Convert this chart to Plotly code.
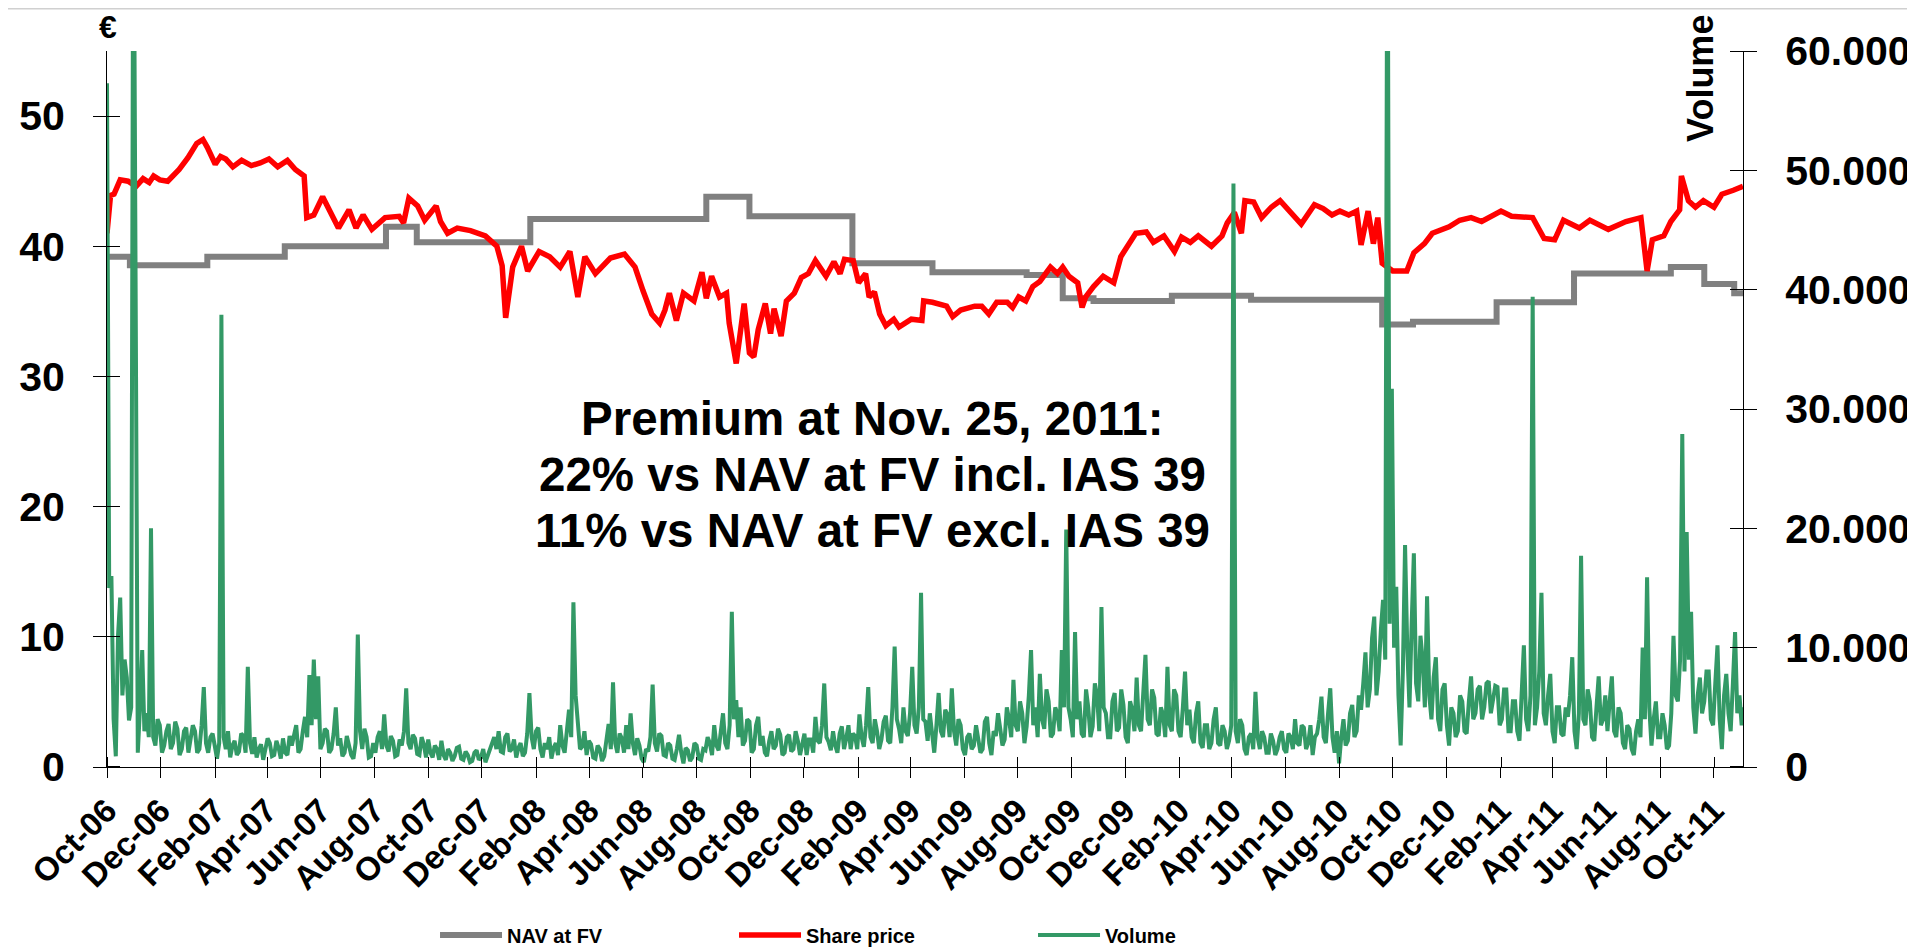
import pandas as pd
import plotly.graph_objects as go

# ---------------- data ----------------
nav_dates = ["2006-10-23", "2006-11-18", "2007-02-14", "2007-05-13", "2007-09-05", "2007-10-10",
             "2008-02-16", "2008-09-03", "2008-10-22", "2009-02-16", "2009-05-18", "2009-09-02",
             "2009-10-13", "2009-11-17", "2010-02-14", "2010-05-15", "2010-10-11", "2010-11-15",
             "2011-02-18", "2011-05-17", "2011-09-04", "2011-10-12", "2011-11-15", "2011-11-25"]
nav_values = [39.2, 38.55, 39.2, 40.0, 41.5, 40.3,
              42.1, 43.8, 42.3, 38.7, 38.0, 37.8,
              36.0, 35.8, 36.2, 35.9, 34.0, 34.2,
              35.7, 37.9, 38.4, 37.1, 36.4, 36.4]

price_dates = [
    "2006-10-23", "2006-10-27", "2006-10-31", "2006-11-07", "2006-11-16", "2006-11-25", "2006-12-03",
    "2006-12-10", "2006-12-15", "2006-12-22", "2006-12-31", "2007-01-13", "2007-01-23", "2007-02-02",
    "2007-02-09", "2007-02-14", "2007-02-23", "2007-03-01", "2007-03-07", "2007-03-15", "2007-03-25",
    "2007-04-05", "2007-04-15", "2007-04-25", "2007-05-05", "2007-05-16", "2007-05-25", "2007-06-04",
    "2007-06-07", "2007-06-15", "2007-06-25", "2007-07-03", "2007-07-13", "2007-07-25", "2007-08-02",
    "2007-08-10", "2007-08-20", "2007-09-04", "2007-09-20", "2007-09-25", "2007-10-01", "2007-10-11",
    "2007-10-19", "2007-11-01", "2007-11-06", "2007-11-14", "2007-11-25", "2007-12-10", "2007-12-27",
    "2008-01-09", "2008-01-15", "2008-01-19", "2008-01-27", "2008-02-06", "2008-02-13", "2008-02-26",
    "2008-03-09", "2008-03-21", "2008-04-01", "2008-04-10", "2008-04-18", "2008-04-30", "2008-05-17",
    "2008-06-02", "2008-06-14", "2008-06-23", "2008-07-03", "2008-07-12", "2008-07-18", "2008-07-23",
    "2008-07-31", "2008-08-08", "2008-08-20", "2008-08-29", "2008-09-03", "2008-09-09", "2008-09-18",
    "2008-09-26", "2008-09-29", "2008-10-07", "2008-10-16", "2008-10-22", "2008-10-27", "2008-11-01",
    "2008-11-09", "2008-11-15", "2008-11-19", "2008-11-27", "2008-12-03", "2008-12-12", "2008-12-20",
    "2008-12-28", "2009-01-05", "2009-01-17", "2009-01-26", "2009-02-02", "2009-02-07", "2009-02-17",
    "2009-02-23", "2009-03-03", "2009-03-07", "2009-03-13", "2009-03-19", "2009-03-26", "2009-04-04",
    "2009-04-10", "2009-04-24", "2009-05-06", "2009-05-08", "2009-05-18", "2009-06-03", "2009-06-10",
    "2009-06-19", "2009-07-05", "2009-07-13", "2009-07-21", "2009-07-30", "2009-08-11", "2009-08-17",
    "2009-08-24", "2009-09-01", "2009-09-09", "2009-09-17", "2009-09-29", "2009-10-07", "2009-10-13",
    "2009-10-20", "2009-10-30", "2009-11-04", "2009-11-08", "2009-11-17", "2009-11-28", "2009-12-10",
    "2009-12-18", "2009-12-26", "2010-01-04", "2010-01-16", "2010-01-24", "2010-02-05", "2010-02-17",
    "2010-02-25", "2010-03-07", "2010-03-16", "2010-03-31", "2010-04-12", "2010-04-18", "2010-04-26",
    "2010-05-04", "2010-05-08", "2010-05-18", "2010-05-27", "2010-06-07", "2010-06-17", "2010-06-28",
    "2010-07-11", "2010-07-26", "2010-08-05", "2010-08-15", "2010-08-24", "2010-09-03", "2010-09-12",
    "2010-09-17", "2010-09-25", "2010-10-01", "2010-10-06", "2010-10-11", "2010-10-23", "2010-11-08",
    "2010-11-16", "2010-11-28", "2010-12-07", "2010-12-26", "2011-01-07", "2011-01-20", "2011-02-01",
    "2011-02-23", "2011-03-07", "2011-03-31", "2011-04-13", "2011-04-25", "2011-05-05", "2011-05-23",
    "2011-06-04", "2011-06-25", "2011-07-15", "2011-08-01", "2011-08-08", "2011-08-14", "2011-08-27",
    "2011-09-04", "2011-09-14", "2011-09-16", "2011-09-24", "2011-10-02", "2011-10-11", "2011-10-23",
    "2011-11-01", "2011-11-14", "2011-11-25"]
price_values = [
    41.0, 43.9, 44.0, 45.1, 45.0, 44.6, 45.2,
    44.9, 45.4, 45.1, 45.0, 45.9, 46.8, 47.9,
    48.2, 47.6, 46.3, 46.9, 46.7, 46.1, 46.6,
    46.2, 46.4, 46.7, 46.1, 46.6, 45.9, 45.4,
    42.2, 42.4, 43.8, 42.8, 41.4, 42.8, 41.4,
    42.4, 41.3, 42.2, 42.3, 41.8, 43.7, 43.1,
    42.0, 43.1, 41.9, 41.0, 41.4, 41.2, 40.8,
    40.0, 38.5, 34.5, 38.4, 40.0, 38.1, 39.6,
    39.2, 38.4, 39.6, 36.1, 39.2, 37.9, 39.1,
    39.4, 38.4, 36.6, 34.8, 34.1, 35.1, 36.4,
    34.3, 36.4, 35.8, 38.0, 36.0, 37.7, 36.1,
    36.4, 34.1, 31.0, 35.6, 31.8, 31.5, 33.6,
    35.6, 33.3, 35.2, 33.1, 35.8, 36.4, 37.6,
    37.9, 38.9, 37.7, 38.8, 37.9, 39.0, 38.9,
    37.2, 37.9, 36.1, 36.5, 34.8, 33.9, 34.4,
    33.8, 34.4, 34.3, 35.8, 35.7, 35.4, 34.6,
    35.1, 35.4, 35.4, 34.8, 35.7, 35.7, 35.3,
    36.1, 35.8, 36.9, 37.3, 38.4, 37.9, 38.4,
    37.7, 37.2, 35.3, 36.1, 36.9, 37.7, 37.2,
    39.2, 40.0, 41.0, 41.1, 40.3, 40.8, 39.6,
    40.7, 40.3, 40.8, 40.0, 40.8, 41.8, 42.6,
    41.0, 43.5, 43.4, 42.2, 43.0, 43.5, 42.6,
    41.7, 43.2, 42.9, 42.4, 42.7, 42.4, 42.7,
    40.1, 42.7, 40.2, 42.2, 38.7, 38.1, 38.1,
    39.5, 40.2, 41.0, 41.5, 42.0, 42.2, 41.9,
    42.7, 42.3, 42.2, 40.6, 40.5, 42.0, 41.4,
    42.0, 41.3, 41.9, 42.2, 38.1, 40.5, 40.8,
    41.9, 42.8, 45.4, 43.5, 43.0, 43.5, 43.0,
    44.0, 44.3, 44.6]

# volume, one reading every 2.5 days starting 2006-10-23
volume_start = "2006-10-23"
volume_values = [
    57300, 15000, 16000, 4000, 900, 11000, 14200, 6000, 9000, 7500, 3900, 5000, 80000, 47400, 1200, 5000, 9800, 3000, 4500, 2500,
    20000, 2500, 1800, 4000, 3500, 1200, 1800, 3000, 3600, 1500, 2000, 3800, 3200, 1000, 1500, 3000, 3300, 1200, 2200, 3500,
    3000, 1200, 1500, 3500, 6700, 2000, 1200, 2500, 2800, 1500, 700, 2000, 37900, 2500, 1500, 3000, 800, 1800, 2200, 1000,
    1300, 2800, 2600, 1200, 8400, 2000, 1100, 2500, 800, 1500, 1900, 600, 1400, 2400, 2000, 900, 1000, 2200, 1600, 700,
    2400, 1200, 1000, 2600, 1800, 2800, 3500, 1200, 1500, 3000, 4200, 2500, 7700, 3500, 9000, 4000, 7600, 1500, 2000, 3200,
    3000, 1200, 1500, 2800, 5000, 1800, 2400, 900, 1200, 2600, 1800, 1000, 700, 2000, 11100, 3000, 1500, 3200, 2500, 800,
    900, 2000, 1200, 2500, 3000, 1500, 4400, 1800, 1300, 2600, 2200, 900, 1000, 2300, 1800, 3000, 6600, 2000, 1500, 2700,
    2400, 1100, 1000, 2500, 1900, 800, 2300, 1200, 800, 1800, 1500, 600, 2200, 1000, 600, 1500, 1200, 500, 900, 1600,
    1700, 700, 600, 1300, 1000, 400, 500, 1200, 1400, 600, 800, 1500, 400, 900, 1300, 2000, 2500, 1500, 3000, 1300,
    1200, 2500, 2800, 1300, 1500, 2300, 800, 1600, 2000, 900, 1200, 2800, 6200, 2500, 1500, 3000, 3300, 1500, 800, 2000,
    1500, 2500, 700, 1600, 2000, 1000, 3500, 1800, 1200, 3000, 4800, 2500, 13800, 6000, 4000, 1500, 1700, 3000, 1000, 2200,
    1900, 800, 700, 1800, 1500, 500, 900, 2200, 3600, 1500, 7100, 2000, 1200, 2800, 2400, 1200, 3500, 1500, 4500, 2000,
    1000, 2400, 1800, 700, 400, 1500, 1300, 2500, 6900, 2000, 1300, 2800, 2600, 1000, 900, 2000, 1800, 700, 600, 1500,
    2700, 1200, 300, 1600, 1400, 500, 800, 2000, 1800, 700, 600, 1500, 1400, 2500, 2000, 1000, 3500, 1800, 1400, 3000,
    4500, 2000, 1500, 3500, 13000, 4000, 5600, 2500, 5000, 1800, 2200, 4000, 3800, 1200, 1500, 3500, 4200, 1800, 2600, 1200,
    900, 2200, 3000, 1500, 1800, 3200, 2700, 1000, 1200, 2500, 2700, 1300, 1500, 3000, 2200, 1000, 1800, 2800, 1000, 2300,
    2300, 1200, 4200, 2200, 2000, 3500, 7000, 2500, 2100, 1400, 3000, 1800, 1200, 2800, 3400, 1500, 2400, 3500, 1500, 2800,
    2600, 1500, 4400, 2500, 1700, 3500, 6700, 2500, 2000, 4000, 3000, 1500, 2300, 3800, 4300, 2200, 2000, 5000, 10100, 4000,
    3200, 2000, 5000, 3000, 2600, 4500, 8400, 3500, 2800, 5000, 14600, 4000, 3800, 2200, 4500, 2500, 1200, 3500, 6200, 3000,
    2500, 4800, 4400, 2500, 6600, 3000, 1800, 4000, 3500, 1500, 1000, 2500, 2800, 1500, 1800, 3500, 2500, 1200, 1500, 3800,
    4200, 2000, 1000, 3000, 2600, 4500, 3200, 1800, 2300, 5000, 4000, 2500, 7300, 3500, 3000, 5500, 4500, 2000, 3400, 6000,
    9800, 3500, 5000, 2500, 7800, 4000, 3200, 6500, 5500, 2500, 2800, 5000, 4500, 3000, 9800, 5000, 19900, 5000, 4000, 2500,
    11300, 4000, 5500, 2800, 2500, 6500, 5000, 2500, 3400, 7000, 6000, 3000, 13400, 5000, 4500, 2500, 2500, 5500, 6200, 3000,
    3300, 6500, 5200, 2500, 2000, 5500, 4800, 3000, 7500, 3500, 3000, 6000, 9400, 4000, 3500, 6500, 5800, 2800, 2600, 5000,
    4400, 2500, 8400, 3500, 3000, 6500, 6000, 3000, 2500, 5000, 8000, 3500, 4800, 2500, 2000, 4500, 5500, 2000, 1600, 3500,
    3500, 1500, 2000, 4000, 5000, 2000, 1800, 3500, 3000, 1500, 2200, 3500, 48900, 3000, 2000, 4000, 3500, 1500, 1000, 2500,
    2800, 1500, 6300, 2500, 1500, 3000, 2500, 1200, 1200, 2800, 2200, 1000, 1500, 2500, 3000, 1500, 1200, 2800, 2500, 1500,
    4000, 2000, 1800, 3500, 3300, 1500, 2000, 3500, 1000, 2500, 2800, 4000, 5900, 2500, 2000, 4500, 6600, 2500, 1200, 3000,
    300, 2500, 4000, 1800, 2200, 4500, 5200, 2500, 3000, 6000, 4800, 7000, 9600, 5000, 6500, 10800, 12600, 6000, 8000, 11500,
    14000, 9000, 80000, 12000, 31700, 10000, 15100, 6000, 1800, 8000, 18600, 10000, 5000, 12000, 17900, 7000, 5500, 11000, 9000, 5000,
    14300, 6000, 4000, 7500, 9200, 4000, 3000, 6500, 7000, 3500, 1800, 5000, 4500, 2500, 3000, 6000, 5500, 3000, 2800, 5500,
    7600, 4000, 4500, 6500, 6800, 4000, 5000, 7000, 7200, 4500, 5500, 6800, 6700, 3500, 4000, 6500, 6500, 3000, 3000, 5500,
    5500, 3000, 2200, 5500, 10200, 4000, 3000, 6000, 39400, 3500, 5000, 8000, 14600, 4500, 3500, 6000, 7800, 3000, 2000, 5000,
    5000, 2800, 2600, 5000, 4200, 6000, 9200, 3000, 1500, 4500, 17700, 4000, 3500, 6500, 5500, 2500, 2200, 5000, 7600, 3500,
    4000, 6000, 3000, 5500, 7600, 3000, 2500, 5000, 4500, 2000, 1500, 3500, 3200, 1500, 1000, 3000, 4000, 2500, 10000, 4000,
    15900, 5000, 1800, 4000, 5500, 2500, 2500, 4500, 3500, 1500, 1800, 4500, 11000, 6000, 5500, 9000, 27900, 8000, 19700, 9000,
    13000, 5000, 2800, 6000, 7500, 4500, 5500, 8000, 8000, 4000, 3500, 7000, 10200, 4000, 1500, 6000, 7800, 4500, 3000, 7000,
    11300, 4500, 6000, 3500, 5000]

x_tick_labels = ["Oct-06", "Dec-06", "Feb-07", "Apr-07", "Jun-07", "Aug-07", "Oct-07", "Dec-07",
                 "Feb-08", "Apr-08", "Jun-08", "Aug-08", "Oct-08", "Dec-08", "Feb-09", "Apr-09",
                 "Jun-09", "Aug-09", "Oct-09", "Dec-09", "Feb-10", "Apr-10", "Jun-10", "Aug-10",
                 "Oct-10", "Dec-10", "Feb-11", "Apr-11", "Jun-11", "Aug-11", "Oct-11"]
x_range = ["2006-10-23", "2011-11-25"]
y_left_ticks = [0, 10, 20, 30, 40, 50]
y_right_ticks = [0, 10000, 20000, 30000, 40000, 50000, 60000]
y_right_labels = ["0", "10.000", "20.000", "30.000", "40.000", "50.000", "60.000"]
note_lines = ["Premium at Nov. 25, 2011:",
              "22% vs NAV at FV incl. IAS 39",
              "11% vs NAV at FV excl. IAS 39"]

# ---------------- figure ----------------
volume_dates = pd.date_range(volume_start, periods=len(volume_values), freq="60h")
x_tick_dates = pd.date_range(x_range[0], periods=len(x_tick_labels), freq=pd.DateOffset(months=2))
x_minor = [d + pd.Timedelta(hours=2) for d in x_tick_dates]

FONT = "Liberation Sans, Arial, sans-serif"
NARROW = "Liberation Sans Narrow, Liberation Sans, Arial, sans-serif"

fig = go.Figure()
fig.add_trace(go.Scatter(x=nav_dates, y=nav_values, name="NAV at FV", mode="lines",
                         line=dict(color="#808080", width=6, shape="hv"), yaxis="y"))
fig.add_trace(go.Scatter(x=price_dates, y=price_values, name="Share price", mode="lines",
                         line=dict(color="#FF0000", width=5.5), yaxis="y"))
fig.add_trace(go.Scatter(x=volume_dates, y=volume_values, name="Volume", mode="lines",
                         line=dict(color="#339966", width=4), yaxis="y2"))

axis_common = dict(showline=True, linecolor="black", linewidth=1, showgrid=False,
                   zeroline=False, tickcolor="black", tickwidth=1, automargin=False)

# the page body adds an 8px offset, so the figure is 8px smaller and margins compensate
fig.update_layout(
    width=1907, height=941,
    margin=dict(l=99, r=172, t=43, b=182, autoexpand=False),
    paper_bgcolor="white", plot_bgcolor="white",
    showlegend=True,
    legend=dict(orientation="h", x=0.2005, y=-0.2346, xanchor="left", yanchor="middle",
                font=dict(family=NARROW, size=20, color="black", weight="bold"),
                entrywidth=222, entrywidthmode="pixels", itemwidth=62,
                bgcolor="rgba(0,0,0,0)"),
    xaxis=dict(type="date", range=x_range, tickmode="array", tickvals=list(x_tick_dates),
               ticktext=x_tick_labels, tickangle=-45, ticks="outside", ticklen=10,
               tickfont=dict(family=FONT, size=33, color="black", weight="bold"),
               minor=dict(tickmode="array", tickvals=x_minor, ticks="inside", ticklen=10,
                          tickcolor="black", tickwidth=1, showgrid=False),
               **axis_common),
    yaxis=dict(range=[0, 55], tickmode="array", tickvals=y_left_ticks, ticks="outside",
               ticklen=13, ticklabelstandoff=20,
               tickfont=dict(family=FONT, size=41, color="black", weight="bold"),
               minor=dict(tickmode="array", tickvals=[v + 0.001 for v in y_left_ticks],
                          ticks="inside", ticklen=13, tickcolor="black", tickwidth=1,
                          showgrid=False),
               **axis_common),
    yaxis2=dict(range=[0, 60000], overlaying="y", side="right", tickmode="array",
                tickvals=y_right_ticks, ticktext=y_right_labels, ticks="outside",
                ticklen=13, ticklabelstandoff=20,
                tickfont=dict(family=FONT, size=41, color="black", weight="bold"),
                minor=dict(tickmode="array", tickvals=[v - 1 if v else v + 1 for v in y_right_ticks],
                           ticks="inside", ticklen=13, tickcolor="black", tickwidth=1,
                           showgrid=False),
                **axis_common),
)

# annotations
for txt, yy in zip(note_lines, [0.487, 0.409, 0.331]):
    fig.add_annotation(text=txt, xref="paper", yref="paper", x=0.4682, y=yy,
                       xanchor="center", yanchor="middle", showarrow=False,
                       font=dict(family=FONT, size=47.5, color="black", weight="bold"))
fig.add_annotation(text="€", xref="paper", yref="paper", x=0.0006, y=1.0335,
                   xanchor="center", yanchor="middle", showarrow=False,
                   font=dict(family=FONT, size=32, color="black", weight="bold"))
fig.add_annotation(text="Volume", xref="paper", yref="paper", x=0.9743, y=0.9623,
                   xanchor="center", yanchor="middle", showarrow=False, textangle=-90,
                   font=dict(family=FONT, size=36, color="black", weight="bold"))
fig.add_shape(type="line", xref="paper", yref="paper", x0=-0.07, x1=1.11,
              y0=1.0595, y1=1.0595, line=dict(color="#d0d0d0", width=2))

fig.write_html("out.html")
